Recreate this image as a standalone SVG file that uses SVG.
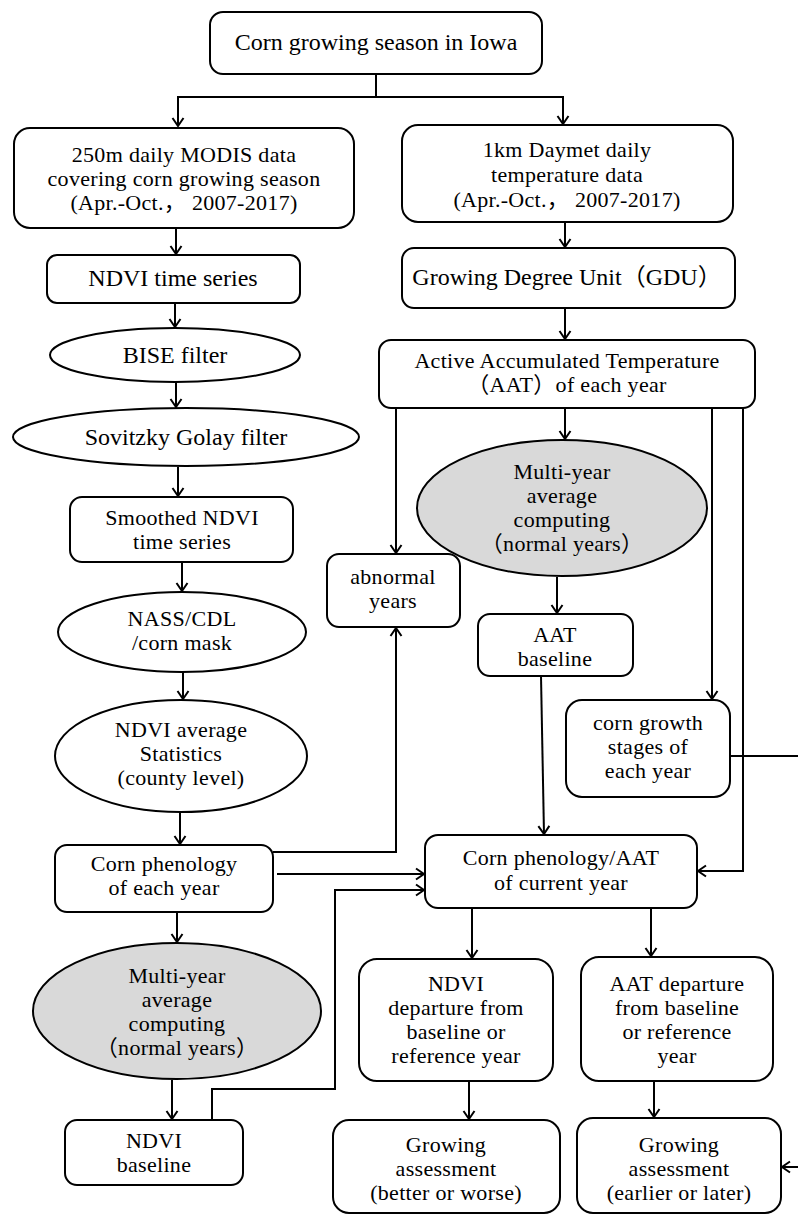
<svg xmlns="http://www.w3.org/2000/svg" width="798" height="1216" viewBox="0 0 798 1216">
<defs>
<style>
.box{fill:#fff;stroke:#000;stroke-width:2}
.ell{fill:#fff;stroke:#000;stroke-width:2}
.gray{fill:#d9d9d9;stroke:#000;stroke-width:2}
.t{font-family:"Liberation Serif","Times New Roman","DejaVu Serif","Noto Sans CJK SC",serif;font-size:24px;fill:#000;text-anchor:middle}
.m{font-size:22px;letter-spacing:0.3px}
.c{fill:none;stroke:#000;stroke-width:2}
</style>
<marker id="arr" markerUnits="userSpaceOnUse" markerWidth="14" markerHeight="14" viewBox="-11 -7 14 14" refX="0" refY="0" orient="auto">
<path d="M-8,-5.5 L0,0 L-8,5.5" fill="none" stroke="#000" stroke-width="2"/>
</marker>
</defs>
<rect width="798" height="1216" fill="#fff"/>

<g id="connectors">
<path class="c" d="M376,74 V97 H178 V126" marker-end="url(#arr)"/>
<path class="c" d="M376,97 H563 V124" marker-end="url(#arr)"/>
<path class="c" d="M176,228 V254" marker-end="url(#arr)"/>
<path class="c" d="M175,303 V327" marker-end="url(#arr)"/>
<path class="c" d="M176,382 V407" marker-end="url(#arr)"/>
<path class="c" d="M178,467 V496" marker-end="url(#arr)"/>
<path class="c" d="M182,562 V591" marker-end="url(#arr)"/>
<path class="c" d="M183,672 V699" marker-end="url(#arr)"/>
<path class="c" d="M180,813 V844" marker-end="url(#arr)"/>
<path class="c" d="M177,912 V942" marker-end="url(#arr)"/>
<path class="c" d="M172,1080 V1119" marker-end="url(#arr)"/>
<path class="c" d="M212,1120 V1089 H335 V890 H424" marker-end="url(#arr)"/>
<path class="c" d="M273,852 H396 V628" marker-end="url(#arr)"/>
<path class="c" d="M277,874 H424" marker-end="url(#arr)"/>
<path class="c" d="M565,222 V247" marker-end="url(#arr)"/>
<path class="c" d="M565,308 V339" marker-end="url(#arr)"/>
<path class="c" d="M396,408 V553" marker-end="url(#arr)"/>
<path class="c" d="M565,408 V439" marker-end="url(#arr)"/>
<path class="c" d="M712,408 V699" marker-end="url(#arr)"/>
<path class="c" d="M743,408 V871 H698" marker-end="url(#arr)"/>
<path class="c" d="M557,577 V613" marker-end="url(#arr)"/>
<path class="c" d="M541,676 L544,834" marker-end="url(#arr)"/>
<path class="c" d="M730,756 H806 V1167 H782" marker-end="url(#arr)"/>
<path class="c" d="M472,909 V958" marker-end="url(#arr)"/>
<path class="c" d="M651,908 V956" marker-end="url(#arr)"/>
<path class="c" d="M469,1081 V1119" marker-end="url(#arr)"/>
<path class="c" d="M654,1081 V1117" marker-end="url(#arr)"/>
</g>

<g id="n-top">
<rect class="box" x="210" y="12" width="332" height="62" rx="13"/>
<text class="t" x="376" y="50">Corn growing season in Iowa</text>
</g>

<g id="n-modis">
<rect class="box" x="14" y="128" width="340" height="100" rx="16"/>
<text class="t m" x="184" y="162">250m daily MODIS data</text>
<text class="t m" x="184" y="186">covering corn growing season</text>
<text class="t m" x="184" y="210">(Apr.-Oct.， 2007-2017)</text>
</g>

<g id="n-ndvi-ts">
<rect class="box" x="47" y="255" width="253" height="48" rx="10"/>
<text class="t" x="173" y="286">NDVI time series</text>
</g>

<g id="n-bise">
<ellipse class="ell" cx="175" cy="355" rx="125" ry="27"/>
<text class="t" x="175" y="363">BISE filter</text>
</g>

<g id="n-sg">
<ellipse class="ell" cx="186" cy="437" rx="173" ry="29"/>
<text class="t" x="186" y="445">Sovitzky Golay filter</text>
</g>

<g id="n-smoothed">
<rect class="box" x="70" y="497" width="223" height="65" rx="12"/>
<text class="t m" x="182" y="525">Smoothed NDVI</text>
<text class="t m" x="182" y="549">time series</text>
</g>

<g id="n-nass">
<ellipse class="ell" cx="182" cy="632" rx="124" ry="40"/>
<text class="t m" x="182" y="626">NASS/CDL</text>
<text class="t m" x="182" y="650">/corn mask</text>
</g>

<g id="n-stats">
<ellipse class="ell" cx="181" cy="756" rx="126" ry="56"/>
<text class="t m" x="181" y="737">NDVI average</text>
<text class="t m" x="181" y="761">Statistics</text>
<text class="t m" x="181" y="785">(county level)</text>
</g>

<g id="n-phen">
<rect class="box" x="55" y="845" width="218" height="67" rx="12"/>
<text class="t m" x="164" y="871">Corn phenology</text>
<text class="t m" x="164" y="895">of each year</text>
</g>

<g id="n-multi-left">
<ellipse class="gray" cx="177" cy="1011" rx="144" ry="68"/>
<text class="t m" x="177" y="983">Multi-year</text>
<text class="t m" x="177" y="1007">average</text>
<text class="t m" x="177" y="1031">computing</text>
<text class="t m" x="177" y="1055">（normal years）</text>
</g>

<g id="n-ndvi-base">
<rect class="box" x="65" y="1120" width="178" height="65" rx="12"/>
<text class="t m" x="154" y="1148">NDVI</text>
<text class="t m" x="154" y="1172">baseline</text>
</g>

<g id="n-daymet">
<rect class="box" x="402" y="125" width="331" height="97" rx="16"/>
<text class="t m" x="567" y="157">1km Daymet daily</text>
<text class="t m" x="567" y="182">temperature data</text>
<text class="t m" x="567" y="207">(Apr.-Oct.， 2007-2017)</text>
</g>

<g id="n-gdu">
<rect class="box" x="402" y="248" width="333" height="60" rx="12"/>
<text class="t" x="567" y="285">Growing Degree Unit（GDU）</text>
</g>

<g id="n-aat">
<rect class="box" x="379" y="340" width="376" height="68" rx="12"/>
<text class="t m" x="567" y="368">Active Accumulated Temperature</text>
<text class="t m" x="567" y="392">（AAT）of each year</text>
</g>

<g id="n-multi-right">
<ellipse class="gray" cx="562" cy="508" rx="145" ry="68"/>
<text class="t m" x="562" y="479">Multi-year</text>
<text class="t m" x="562" y="503">average</text>
<text class="t m" x="562" y="527">computing</text>
<text class="t m" x="562" y="551">（normal years）</text>
</g>

<g id="n-abnormal">
<rect class="box" x="327" y="554" width="133" height="73" rx="12"/>
<text class="t m" x="393" y="584">abnormal</text>
<text class="t m" x="393" y="608">years</text>
</g>

<g id="n-aat-base">
<rect class="box" x="478" y="614" width="155" height="62" rx="12"/>
<text class="t m" x="555" y="642">AAT</text>
<text class="t m" x="555" y="666">baseline</text>
</g>

<g id="n-stages">
<rect class="box" x="566" y="700" width="164" height="97" rx="16"/>
<text class="t m" x="648" y="730">corn growth</text>
<text class="t m" x="648" y="754">stages of</text>
<text class="t m" x="648" y="778">each year</text>
</g>

<g id="n-current">
<rect class="box" x="425" y="835" width="272" height="73" rx="13"/>
<text class="t m" x="561" y="865">Corn phenology/AAT</text>
<text class="t m" x="561" y="890">of current year</text>
</g>

<g id="n-ndvi-dep">
<rect class="box" x="359" y="959" width="194" height="122" rx="18"/>
<text class="t m" x="456" y="991">NDVI</text>
<text class="t m" x="456" y="1015">departure from</text>
<text class="t m" x="456" y="1039">baseline or</text>
<text class="t m" x="456" y="1063">reference year</text>
</g>

<g id="n-aat-dep">
<rect class="box" x="581" y="957" width="192" height="124" rx="18"/>
<text class="t m" x="677" y="991">AAT departure</text>
<text class="t m" x="677" y="1015">from baseline</text>
<text class="t m" x="677" y="1039">or reference</text>
<text class="t m" x="677" y="1063">year</text>
</g>

<g id="n-assess-left">
<rect class="box" x="333" y="1120" width="227" height="93" rx="16"/>
<text class="t m" x="446" y="1152">Growing</text>
<text class="t m" x="446" y="1176">assessment</text>
<text class="t m" x="446" y="1200">(better or worse)</text>
</g>

<g id="n-assess-right">
<rect class="box" x="577" y="1118" width="204" height="95" rx="16"/>
<text class="t m" x="679" y="1152">Growing</text>
<text class="t m" x="679" y="1176">assessment</text>
<text class="t m" x="679" y="1200">(earlier or later)</text>
</g>
</svg>
